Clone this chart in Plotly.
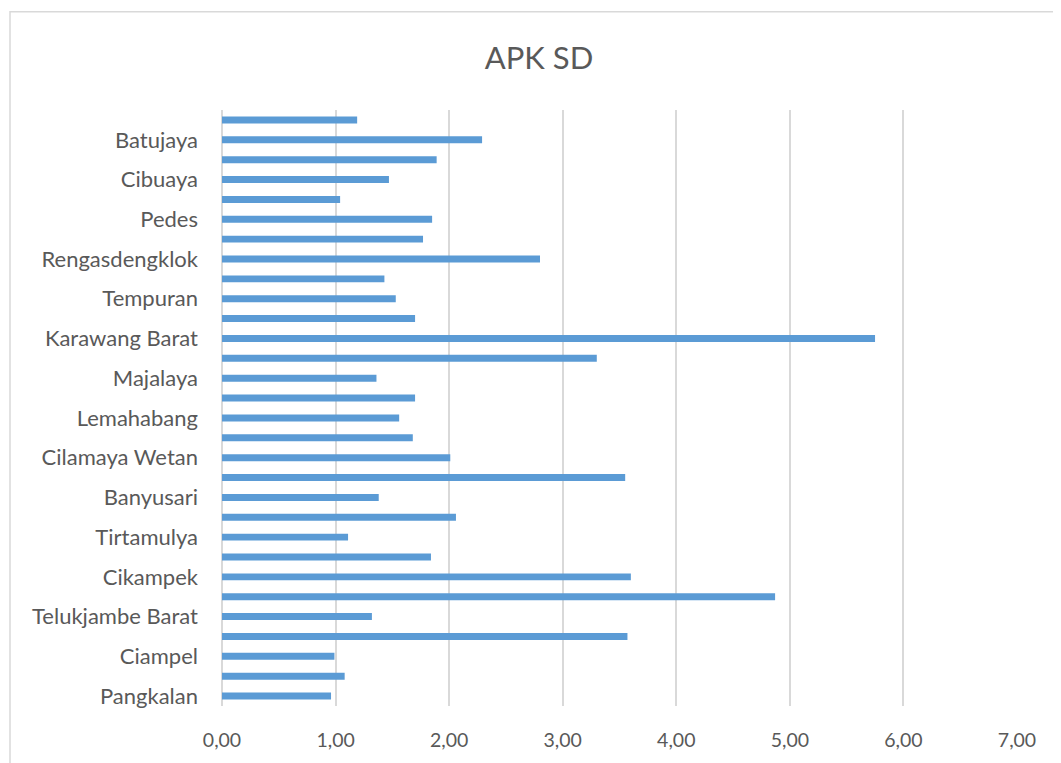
import plotly.graph_objects as go

kecamatan = [
    "Pangkalan", "Tegalwaru", "Ciampel", "Telukjambe Timur", "Telukjambe Barat",
    "Klari", "Cikampek", "Purwasari", "Tirtamulya", "Jatisari",
    "Banyusari", "Kotabaru", "Cilamaya Wetan", "Cilamaya Kulon", "Lemahabang",
    "Telagasari", "Majalaya", "Karawang Timur", "Karawang Barat", "Rawamerta",
    "Tempuran", "Kutawaluya", "Rengasdengklok", "Jayakerta", "Pedes",
    "Cilebar", "Cibuaya", "Tirtajaya", "Batujaya", "Pakisjaya",
]
apk_sd = [
    0.96, 1.08, 0.99, 3.57, 1.32,
    4.87, 3.60, 1.84, 1.11, 2.06,
    1.38, 3.55, 2.01, 1.68, 1.56,
    1.70, 1.36, 3.30, 5.75, 1.70,
    1.53, 1.43, 2.80, 1.77, 1.85,
    1.04, 1.47, 1.89, 2.29, 1.19,
]
shown_labels = kecamatan[0::2]
x_ticks = [0, 1, 2, 3, 4, 5, 6, 7]

FONT = "Lato"
TXT = "#595959"
GRID = "#D9D9D9"

fig = go.Figure(go.Bar(
    y=kecamatan, x=apk_sd, orientation="h",
    marker=dict(color="#5B9BD5", line=dict(width=0)),
))

# page body has an 8px margin; figure laid out accordingly
W, H = 1053, 755
L, R, T, B = 214, 44, 102, 53
pw, ph = W - L - R, H - T - B

fig.update_layout(
    width=W, height=H,
    margin=dict(l=L, r=R, t=T, b=B),
    paper_bgcolor="white", plot_bgcolor="white",
    separators=",.",
    bargap=0.65,
    showlegend=False,
    title=dict(text="APK SD", x=531 / W, xanchor="center", y=1 - 50 / H, yanchor="middle",
               font=dict(family=FONT, size=31, color=TXT)),
    xaxis=dict(range=[0, 7], tickvals=x_ticks, tickformat=".2f",
               showgrid=True, gridcolor=GRID, gridwidth=1.5,
               zeroline=True, zerolinecolor=GRID, zerolinewidth=1.5,
               showline=False, ticks="", ticklabelstandoff=20,
               tickfont=dict(family=FONT, size=19.5, color=TXT), fixedrange=True),
    yaxis=dict(type="category", categoryorder="array", categoryarray=kecamatan,
               tickvals=shown_labels, ticktext=shown_labels,
               showgrid=False, showline=False, ticks="", ticklabelstandoff=23,
               tickfont=dict(family=FONT, size=22, color=TXT), fixedrange=True),
    shapes=[dict(type="rect", xref="paper", yref="paper",
                 x0=(2 - L) / pw, x1=1.2, y0=-0.2, y1=(H - B - 3) / ph,
                 line=dict(color=GRID, width=1.5), layer="below")],
)

fig.write_html("out.html")
